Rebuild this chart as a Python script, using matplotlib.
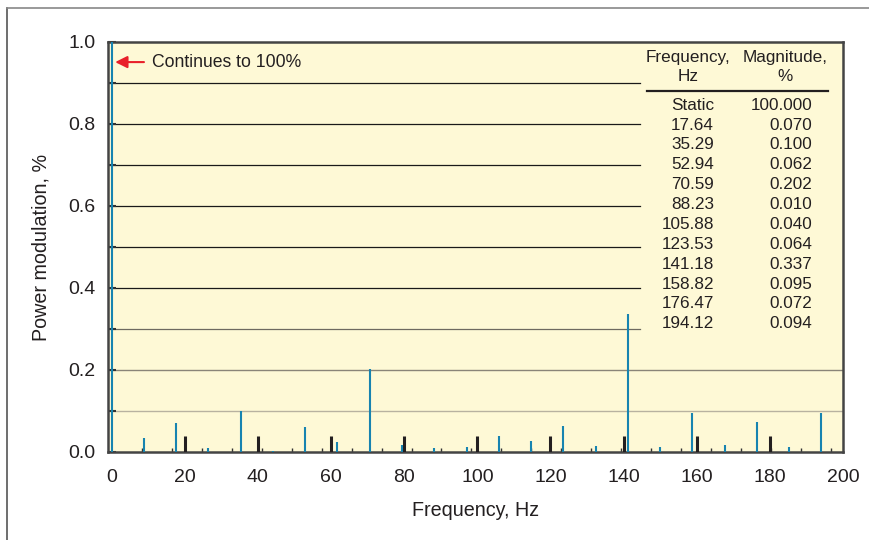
import numpy as np
import matplotlib.pyplot as plt
from matplotlib.lines import Line2D

plt.rcParams['font.family'] = ['Liberation Sans', 'DejaVu Sans']

# Data
# blue lines: multiples of 8.82 Hz (table lists the 17.64 Hz family)
blue_freq = np.array([0, 8.82, 17.64, 26.47, 35.29, 44.11, 52.94, 61.76, 70.59, 79.41,
                      88.23, 97.05, 105.88, 114.70, 123.53, 132.35, 141.18, 150.00,
                      158.82, 167.64, 176.47, 185.29, 194.12])
blue_mag = np.array([100.0, 0.033, 0.070, 0.010, 0.100, 0.003, 0.062, 0.025, 0.202, 0.017,
                     0.010, 0.013, 0.040, 0.028, 0.064, 0.015, 0.337, 0.011,
                     0.095, 0.016, 0.072, 0.011, 0.094])
# black lines: multiples of 20 Hz
black_freq = np.array([20, 40, 60, 80, 100, 120, 140, 160, 180])
black_mag = np.array([0.039, 0.039, 0.039, 0.039, 0.039, 0.039, 0.039, 0.039, 0.039])

table_freq = ['Static', '17.64', '35.29', '52.94', '70.59', '88.23', '105.88',
              '123.53', '141.18', '158.82', '176.47', '194.12']
table_mag = ['100.000', '0.070', '0.100', '0.062', '0.202', '0.010', '0.040',
             '0.064', '0.337', '0.095', '0.072', '0.094']

fig = plt.figure(figsize=(8.69, 5.4), dpi=100)
ax = fig.add_axes([108 / 869, 88 / 540, 735 / 869, 410 / 540])
ax.set_facecolor('#fef9d6')

# outer frame (left and top)
fig.add_artist(Line2D([7 / 869, 7 / 869], [0, 1 - 8 / 540], color='#555555', lw=1.2))
fig.add_artist(Line2D([7 / 869, 1], [1 - 8 / 540, 1 - 8 / 540], color='#888888', lw=1.2))

# grid lines
for yv in [0.4, 0.5, 0.6, 0.7, 0.8, 0.9]:
    ax.axhline(yv, xmin=0, xmax=0.724, color='#1a1a1a', lw=0.9, zorder=1)
ax.axhline(0.3, xmin=0, xmax=0.724, color='#6e6a60', lw=0.9, zorder=1)
ax.axhline(0.2, color='#8a8578', lw=1.0, zorder=1)
ax.axhline(0.1, color='#b8b2a0', lw=1.0, zorder=1)

ax.vlines(blue_freq, 0, blue_mag, color='#1784b0', lw=1.5, zorder=3)
ax.vlines(black_freq, 0, black_mag, color='#231f20', lw=2.2, zorder=3)

ax.set_xlim(-1, 200)
ax.set_ylim(0, 1.0)
ax.set_xticks(np.arange(0, 201, 20))
ax.set_xticks(np.arange(8.2, 200, 8.2), minor=True)
ax.set_yticks(np.arange(0, 1.01, 0.2))
ax.set_yticks(np.arange(0.1, 1.0, 0.2), minor=True)
ax.set_yticklabels(['0.0', '0.2', '0.4', '0.6', '0.8', '1.0'])
ax.tick_params(axis='x', which='major', length=0, pad=12, labelsize=14, labelcolor='#231f20')
ax.tick_params(axis='x', which='minor', direction='in', length=3, width=1, color='#333333')
ax.tick_params(axis='y', which='both', direction='in', length=6, width=1.5, color='#333333')
ax.tick_params(axis='y', which='major', pad=9, labelsize=14, labelcolor='#231f20')

for s in ax.spines.values():
    s.set_color('#444444')
    s.set_linewidth(1.8)

ax.set_xlabel('Frequency, Hz', fontsize=14.2, color='#231f20', labelpad=11)
ax.set_ylabel('Power modulation, %', fontsize=14.2, color='#231f20', labelpad=13)

# arrow note
ax.annotate('', xy=(0.2, 0.951), xytext=(9.6, 0.951),
            arrowprops=dict(arrowstyle='-|>', color='#e8202a', lw=1.5, mutation_scale=18),
            zorder=5)
ax.text(11, 0.951, 'Continues to 100%', fontsize=12.7, color='#231f20', va='center', ha='left')

# table
tkw = dict(transform=ax.transAxes, fontsize=12.3, color='#231f20')
ax.text(0.789, 0.961, 'Frequency,', ha='center', va='center', **tkw)
ax.text(0.789, 0.915, 'Hz', ha='center', va='center', **tkw)
ax.text(0.921, 0.961, 'Magnitude,', ha='center', va='center', **tkw)
ax.text(0.921, 0.915, '%', ha='center', va='center', **tkw)
ax.add_line(Line2D([0.733, 0.980], [0.880, 0.880], transform=ax.transAxes,
                   color='#231f20', lw=1.6))
for i, (f, m) in enumerate(zip(table_freq, table_mag)):
    yy = 0.846 - i * 0.0485
    ax.text(0.8245, yy, f, ha='right', va='center', **tkw)
    ax.text(0.958, yy, m, ha='right', va='center', **tkw)

fig.savefig('out.png', dpi=100)
